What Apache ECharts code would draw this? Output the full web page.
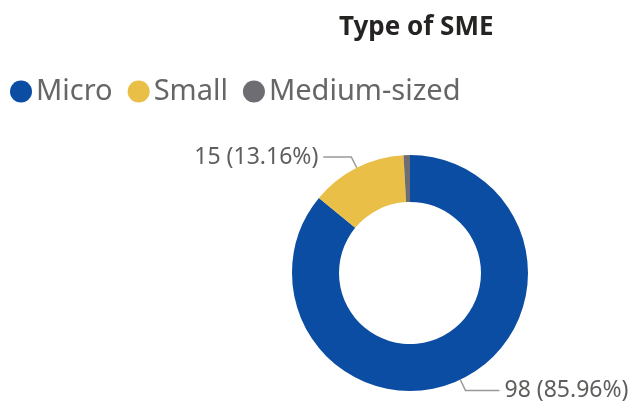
<!DOCTYPE html>
<html>
<head>
<meta charset="utf-8">
<script src="https://cdn.jsdelivr.net/npm/echarts@6/dist/echarts.min.js"></script>
<style>html,body{margin:0;padding:0;background:#fff}#c{width:631px;height:409px}</style>
</head>
<body>
<div id="c"></div>
<script>
const categories = ["Micro", "Small", "Medium-sized"];
const values = [98, 15, 1];
const colors = ["#0B4DA2", "#E9BF47", "#6E6E72"];
const showLabel = [true, true, false];

const chart = echarts.init(document.getElementById('c'));
const total = values.reduce((a, b) => a + b, 0);
chart.setOption({
  animation: false,
  title: {
    text: 'Type of SME',
    left: 334, top: 10,
    textStyle: { fontFamily: 'Noto Sans', fontWeight: 'bold', fontSize: 26, color: '#252423' }
  },
  legend: {
    data: categories,
    left: 5, top: 72,
    icon: 'circle',
    itemWidth: 22, itemHeight: 22,
    itemGap: 15,
    textStyle: { fontFamily: 'Noto Sans', fontSize: 29, color: '#666666', padding: [0, 0, 0, -1] }
  },
  series: [{
    type: 'pie',
    center: [410, 273],
    radius: [71, 118],
    startAngle: 90,
    clockwise: true,
    avoidLabelOverlap: false,
    label: {
      fontFamily: 'Noto Sans', fontSize: 23, color: '#605E5C',
      formatter: p => p.value + ' (' + (p.value / total * 100).toFixed(2) + '%)'
    },
    labelLine: { length: 12, length2: 28, lineStyle: { color: '#999999', width: 1.5 } },
    data: categories.map((c, i) => ({
      name: c, value: values[i],
      itemStyle: { color: colors[i] },
      label: { show: showLabel[i] },
      labelLine: { show: showLabel[i], length2: i === 0 ? 34 : 28 }
    }))
  }]
});
</script>
</body>
</html>
